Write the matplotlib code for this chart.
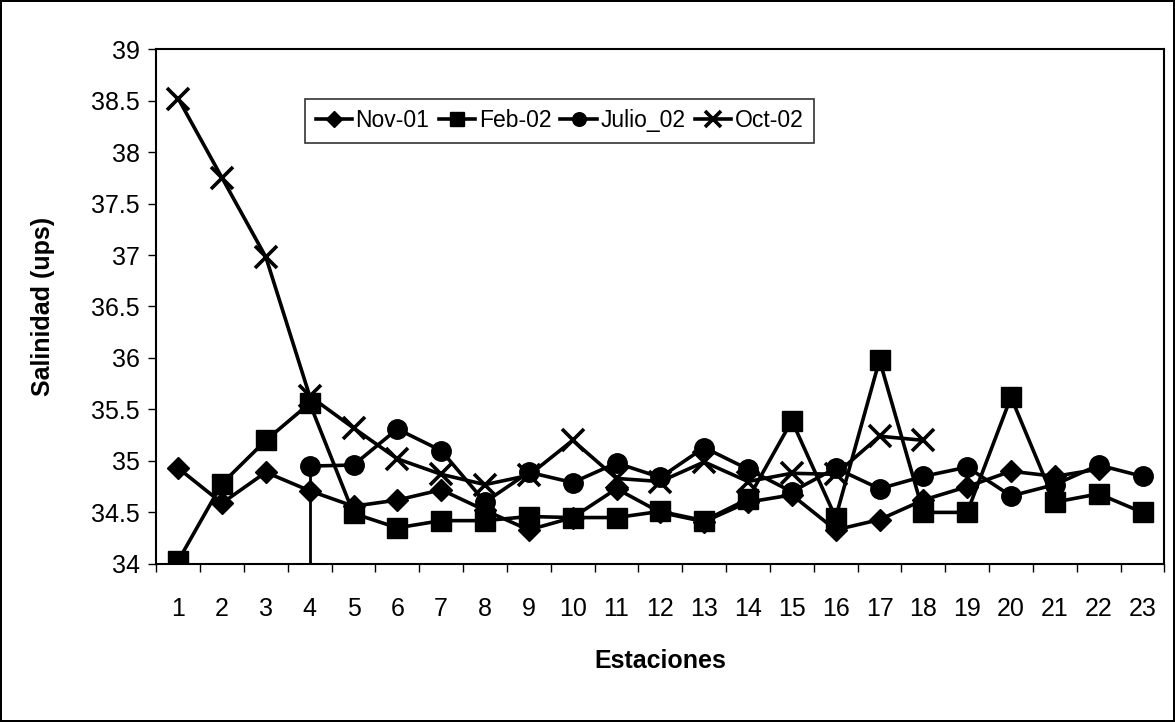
import numpy as np
import matplotlib
matplotlib.use("Agg")
import matplotlib.pyplot as plt
from matplotlib.ticker import MultipleLocator, FixedLocator

plt.rcParams["font.family"] = ["Liberation Sans", "DejaVu Sans"]

# Estaciones 1..23
estaciones = list(range(1, 24))

nov_01 = [34.93, 34.59, 34.89, 34.71, 34.56, 34.62, 34.72, 34.52, 34.33, 34.45,
          34.73, 34.50, 34.41, 34.60, 34.67, 34.33, 34.43, 34.62, 34.75, 34.90,
          34.85, 34.92, np.nan]
feb_02 = [34.03, 34.78, 35.20, 35.56, 34.49, 34.35, 34.42, 34.42, 34.46, 34.45,
          34.45, 34.51, 34.42, 34.63, 35.39, 34.45, 35.98, 34.50, 34.50, 35.62,
          34.60, 34.68, 34.50]
julio_02 = [np.nan, np.nan, np.nan, 34.95, 34.96, 35.31, 35.10, 34.60, 34.89, 34.79,
            34.98, 34.84, 35.13, 34.92, 34.70, 34.93, 34.73, 34.85, 34.94, 34.66,
            34.77, 34.96, 34.85]
oct_02 = [38.52, 37.75, 36.98, 35.63, 35.32, 35.02, 34.87, 34.77, 34.86, 35.20,
          34.83, 34.80, 34.99, 34.80, 34.88, 34.87, 35.24, 35.20, np.nan, np.nan,
          np.nan, np.nan, np.nan]

y_min, y_max = 34, 39


def main():
  fig = plt.figure(figsize=(11.75, 7.22), dpi=100)
  fig.patch.set_edgecolor("black")
  fig.patch.set_linewidth(1.5)
  ax = fig.add_axes([0.133, 0.219, 0.858, 0.713])

  kw = dict(color="black", lw=2.6)
  ax.plot(estaciones, nov_01, marker="D", ms=11, label="Nov-01", **kw)
  ax.plot(estaciones, feb_02, marker="s", ms=14, label="Feb-02", **kw)
  ax.plot(estaciones, julio_02, marker="o", ms=14, label="Julio_02", **kw)
  ax.plot(estaciones, oct_02, marker="x", ms=16, mew=2.6, label="Oct-02", **kw)
  # vertical drop at the first Julio station
  ax.plot([estaciones[3], estaciones[3]], [y_min, julio_02[3]], color="black", lw=2)

  ax.set_xlim(0.5, 23.5)
  ax.set_ylim(y_min, y_max)
  ax.yaxis.set_major_locator(MultipleLocator(0.5))
  ax.yaxis.set_major_formatter(plt.FuncFormatter(lambda v, p: f"{v:g}"))
  ax.set_xticks(estaciones)
  ax.xaxis.set_minor_locator(FixedLocator(np.arange(0.5, 24, 1)))
  ax.tick_params(axis="x", which="major", length=0, pad=24, labelsize=18)
  ax.tick_params(axis="x", which="minor", length=6, width=1, direction="out")
  ax.tick_params(axis="y", length=6, width=1, direction="out", pad=6, labelsize=18)

  for s in ax.spines.values():
    s.set_linewidth(1.5)

  ax.set_xlabel("Estaciones", fontsize=18, fontweight="bold", labelpad=20)
  ax.set_ylabel("Salinidad (ups)", fontsize=18, fontweight="bold", labelpad=26)

  leg = ax.legend(loc="upper center", bbox_to_anchor=(0.40, 0.925), ncol=4,
                  fontsize=16.5, frameon=True, fancybox=False, edgecolor="black",
                  handlelength=1.6, handletextpad=0.15, columnspacing=0.4,
                  borderpad=0.45, markerscale=0.7)
  leg.get_frame().set_linewidth(1.2)

  fig.savefig("out.png", dpi=100, edgecolor=fig.get_edgecolor())


if __name__ == "__main__":
  main()
